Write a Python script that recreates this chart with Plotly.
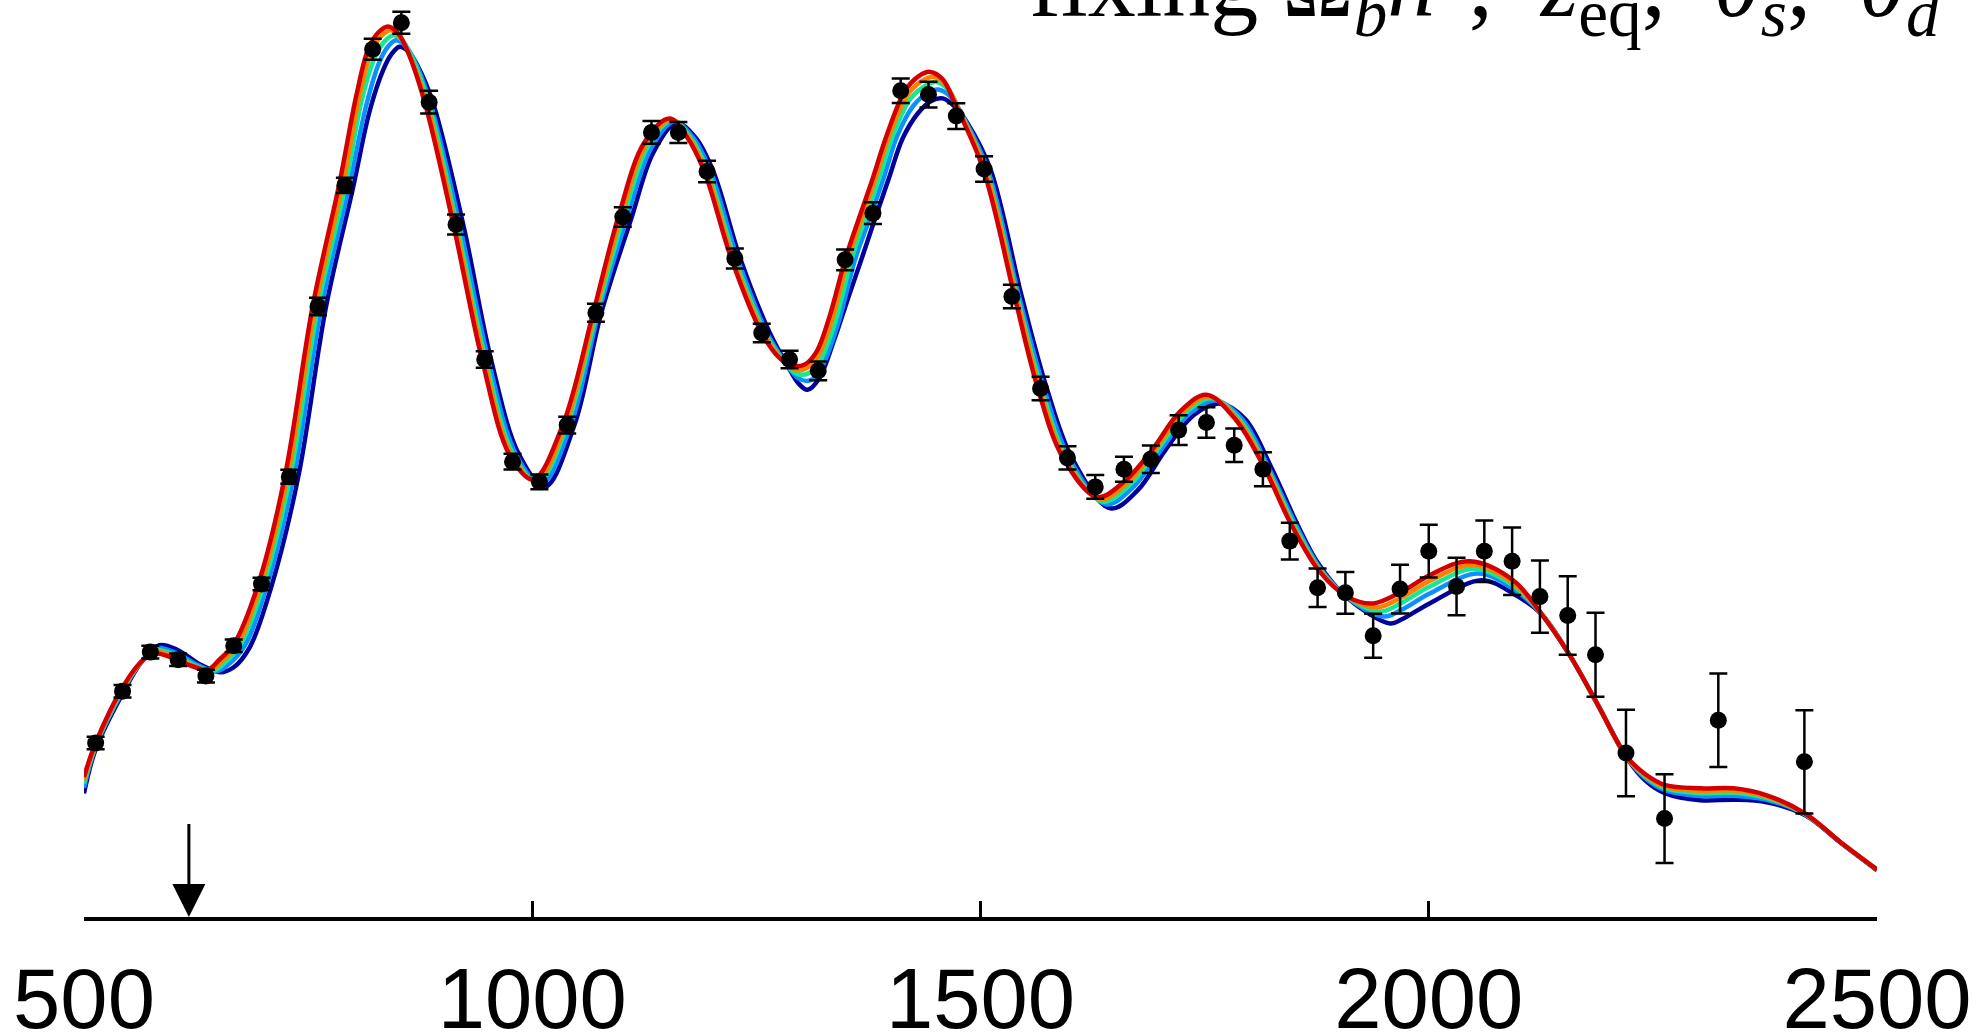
import plotly.graph_objects as go

# ---- measured band powers (arbitrary vertical units) ----
ell_data = [513, 543, 574, 605, 636, 667, 698, 729, 761, 791, 822, 854, 885, 915, 947, 978, 1008, 1039,
            1071, 1101, 1133, 1163, 1195, 1226, 1256, 1287, 1319, 1349, 1380, 1411, 1442, 1473, 1504,
            1535, 1567, 1597, 1628, 1660, 1690, 1721, 1752, 1783, 1815, 1845, 1876, 1907, 1938, 1968,
            2000, 2031, 2062, 2093, 2124, 2155, 2186, 2220, 2263, 2323, 2419]
dl_data = [138, 179, 210, 204, 191, 215, 264, 349, 484, 580, 688, 709, 646, 549, 442, 361, 345, 390,
           479, 555, 622, 622, 591, 522, 463, 442, 433, 521, 558, 655, 652, 635, 593,
           492, 419, 364, 341, 355, 363, 386, 392, 374, 355, 298, 261, 257, 223, 260,
           290, 262, 290, 282, 254, 239, 208, 130, 78, 156, 123]
dl_err = [5, 5, 5, 5, 5, 5, 5, 5.5, 7, 6, 8.3, 8.7, 9, 7.9, 6.6, 6.2, 5.8, 6.6,
          7.1, 7.7, 9, 8.3, 8.5, 7.9, 7.4, 7, 7.5, 8.2, 8.6, 9.7, 10.2, 10.2, 10.1,
          9.3, 9.3, 9.3, 9.5, 9.9, 10.9, 11.7, 12.1, 13.2, 13.5, 14.5, 15.2, 16.5, 17.4, 19.3,
          20.9, 22.8, 24.4, 26.8, 28.7, 31.1, 33.3, 34.3, 35.1, 37, 41]

# ---- model curves ----
red_ell = [500, 513, 543, 562, 578, 600, 620, 638, 651, 667, 694, 724, 755, 785, 804, 817, 828, 839, 850, 860,
           880, 912, 944, 975, 1001, 1034, 1068, 1096, 1125, 1153, 1172, 1192, 1222, 1256, 1276, 1290, 1304,
           1317, 1332, 1349, 1364, 1380, 1395, 1415, 1430, 1444, 1458, 1472, 1503, 1538, 1564, 1592, 1630,
           1660, 1691, 1723, 1752, 1785, 1816, 1846, 1877, 1909, 1938, 1970, 2001, 2046, 2094, 2125, 2156,
           2188, 2221, 2242, 2264, 2303, 2340, 2377, 2420, 2459, 2500]
red_dl = [111, 138, 182, 201, 209, 205, 199, 196, 204, 216, 263, 349, 484, 582, 652, 688, 701, 706, 701, 688,
          646, 549, 442, 366, 347, 390, 479, 555, 614, 633, 619, 591, 522, 463, 443, 437, 438,
          448, 477, 521, 553, 586, 619, 654, 666, 670, 664, 644, 593, 492, 419, 364, 333,
          345, 370, 401, 414, 394, 357, 312, 275, 254, 248.6, 258, 271, 282, 267, 241, 209,
          169, 127, 113, 104.5, 102, 102, 96.5, 82, 59.5, 37.6]

orange_ell = [500, 513, 543, 563, 579, 601, 622, 641, 654, 671, 697, 727, 758, 789, 807, 820, 831, 842, 852, 862,
              882, 914, 946, 977, 1004, 1037, 1070, 1099, 1127, 1155, 1174, 1194, 1224, 1258, 1278, 1292, 1306,
              1319, 1335, 1352, 1367, 1383, 1398, 1418, 1433, 1447, 1461, 1475, 1505, 1540, 1566, 1594, 1633,
              1663, 1694, 1726, 1755, 1787, 1818, 1847, 1877, 1909, 1942, 1970, 2001, 2049, 2094, 2125, 2156,
              2188, 2221, 2242, 2264, 2303, 2340, 2377, 2420, 2459, 2500]
orange_dl = [108.4, 137, 181, 201.4, 210.3, 206.3, 199.2, 195.6, 202.8, 215.6, 262.8, 349, 484, 582, 650, 685,
             698, 703, 698, 685, 646, 549, 442, 366.2, 345.8, 390, 479, 555, 612.4, 632.3, 618.8, 591, 522,
             463, 442, 434, 435, 445, 475, 521, 553, 586, 619, 651, 662, 666, 660, 641, 593, 492, 419, 364,
             331.2, 343.6, 370, 400.4, 412.6, 394.2, 357, 312, 276, 254, 245.4, 253.6, 266.5, 279, 264.9,
             241, 209, 169, 126.5, 112, 103.2, 100.1, 100.2, 95.4, 81.7, 59.5, 37.6]

green_ell = [500, 513, 543, 563, 580, 602, 624, 644, 657, 674, 700, 730, 761, 792, 810, 824, 835, 845, 855, 865,
             884, 916, 948, 979, 1006, 1039, 1072, 1102, 1129, 1156, 1176, 1196, 1226, 1260, 1280, 1294, 1308,
             1321, 1338, 1356, 1371, 1387, 1402, 1421, 1436, 1450, 1464, 1478, 1506, 1541, 1568, 1596, 1636,
             1666, 1697, 1729, 1758, 1789, 1819, 1849, 1877, 1909, 1946, 1970, 2001, 2051, 2094, 2125, 2156,
             2188, 2221, 2242, 2264, 2303, 2340, 2377, 2420, 2459, 2500]
green_dl = [105.8, 136, 180, 201.8, 211.6, 207.6, 199.4, 195.2, 201.6, 215.2, 262.6, 349, 484, 581, 648, 681,
            694, 699, 695, 683, 646, 549, 442, 366.4, 344.6, 390, 479, 555, 610.8, 631.6, 618.6, 591, 522,
            463, 441, 431, 431, 441, 472, 521, 553, 586, 619, 648, 658, 662, 656, 637, 593, 492, 419, 364,
            329.4, 342.2, 370, 399.8, 411.2, 394.4, 357, 312, 277, 253.8, 242.2, 249.2, 262, 276, 262.8,
            241, 209, 169, 126.5, 111, 101.9, 98.2, 98.4, 94.3, 81.5, 59.5, 37.6]

lblue_ell = [500, 513, 543, 564, 582, 603, 627, 647, 661, 679, 704, 734, 765, 796, 815, 829, 839, 848, 858, 868,
             886, 919, 951, 982, 1010, 1043, 1074, 1106, 1132, 1158, 1179, 1199, 1229, 1262, 1283, 1297, 1310,
             1323, 1341, 1360, 1376, 1392, 1407, 1425, 1440, 1453, 1467, 1481, 1508, 1543, 1571, 1599, 1640,
             1670, 1701, 1733, 1762, 1792, 1821, 1851, 1877, 1909, 1950, 1970, 2001, 2055, 2094, 2125, 2156,
             2188, 2221, 2242, 2264, 2303, 2340, 2377, 2420, 2459, 2500]
lblue_dl = [102.5, 134.8, 178.8, 202.3, 213.2, 209.2, 199.7, 194.7, 200.1, 214.7, 262.4, 349, 484, 580, 644, 677,
            690, 695, 691, 680, 646, 549, 442, 366.7, 343.1, 390, 479, 555, 608.8, 630.7, 618.4, 591, 522,
            463, 439, 427, 425.5, 436, 470, 521, 553, 586, 619, 643, 653, 656, 650, 634, 593, 492, 419, 364,
            327.2, 340.5, 370, 399, 409.5, 394.7, 357, 312, 278.3, 253.4, 238.3, 243.7, 256.4, 272.3, 260.2,
            241, 209, 169, 126.5, 109.8, 100.3, 95.9, 96.2, 92.9, 81.2, 59.5, 37.6]

blue_ell = [500, 513, 543, 565, 584, 605, 630, 652, 667, 685, 709, 739, 770, 800, 819, 834, 843, 852, 862, 872,
            889, 923, 954, 985, 1014, 1047, 1077, 1111, 1135, 1161, 1182, 1202, 1232, 1265, 1284, 1297, 1307,
            1320, 1337, 1352, 1367, 1382, 1398, 1413, 1430, 1445, 1458, 1472, 1485, 1511, 1546, 1574, 1602,
            1645, 1675, 1706, 1738, 1767, 1795, 1824, 1853, 1877, 1909, 1957, 1970, 2001, 2059, 2094, 2125,
            2156, 2188, 2221, 2242, 2264, 2303, 2340, 2377, 2420, 2459, 2500]
blue_dl = [98, 133, 177, 203, 215.5, 211.5, 200, 194, 198, 214, 262, 349, 484, 578, 640, 672, 684, 690, 686, 675,
           646, 549, 442, 367, 341, 390, 479, 555, 606, 629.5, 618, 591, 522, 463, 438, 423, 418,
           427, 458, 490, 521, 553, 586, 617, 637, 647, 649, 642, 630, 593, 492, 419, 364,
           324, 338, 370, 398, 407, 395, 357, 312, 280, 253, 232.7, 236, 248.6, 267, 256.5, 240.6,
           209, 169, 126, 108, 98, 92.6, 93, 91, 80.7, 59, 37]

x_ticks = [500, 1000, 1500, 2000, 2500]
arrow_ell = 617
arrow_top = 75

curves = [
    (blue_ell, blue_dl, "#00009a"),
    (lblue_ell, lblue_dl, "#0a90ff"),
    (green_ell, green_dl, "#14e890"),
    (orange_ell, orange_dl, "#ff8000"),
    (red_ell, red_dl, "#d20000"),
]

fig = go.Figure()
for xs, ys, col in curves:
    fig.add_trace(go.Scatter(x=xs, y=ys, mode="lines",
                             line=dict(color=col, width=4.5, shape="spline", smoothing=1.0),
                             showlegend=False, hoverinfo="skip"))

fig.add_trace(go.Scatter(
    x=ell_data, y=dl_data, mode="markers",
    marker=dict(color="black", size=17),
    error_y=dict(type="data", array=dl_err, visible=True, color="black", thickness=2.5, width=9),
    showlegend=False))

fig.add_annotation(x=arrow_ell, y=0, ax=arrow_ell, ay=arrow_top, xref="x", yref="y",
                   axref="x", ayref="y", showarrow=True, arrowhead=2, arrowsize=2.2,
                   arrowwidth=3, arrowcolor="black", text="", standoff=0)

fig.add_annotation(
    text="fixing Ω<sub><i>b</i></sub><i>h</i><sup>2</sup>,&nbsp; <i>z</i><sub>eq</sub>,&nbsp; "
         "<i>θ<sub>s</sub></i>,&nbsp; <i>θ<sub>d</sub></i>",
    xref="paper", yref="paper", x=0.526, y=1, xanchor="left", yanchor="top",
    yshift=86, showarrow=False,
    font=dict(family="Liberation Serif", size=96, color="black"))

fig.update_layout(
    width=1977, height=1034,
    margin=dict(l=84, r=100, t=0, b=117),
    paper_bgcolor="white", plot_bgcolor="white",
    xaxis=dict(range=[500, 2500], tickvals=x_ticks, ticktext=[str(t) for t in x_ticks],
               automargin=False,
               showgrid=False, zeroline=False, showline=True, linecolor="black", linewidth=4,
               ticks="inside", ticklen=16, tickwidth=3, tickcolor="black",
               tickfont=dict(family="Liberation Sans", size=85, color="black"),
               ticklabelstandoff=5),
    yaxis=dict(range=[0, 727], visible=False, showgrid=False, zeroline=False, automargin=False),
)

fig.write_html("out.html")
